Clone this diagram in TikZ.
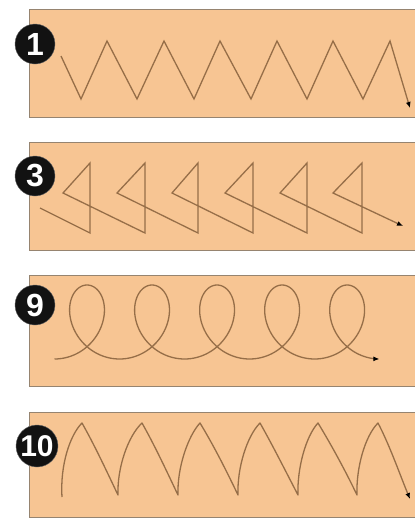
\documentclass[tikz,border=0pt]{standalone}
\usepackage{fontspec}
\setmainfont{Liberation Sans}
\usetikzlibrary{arrows.meta}
\definecolor{boxfill}{RGB}{247,197,147}
\definecolor{boxline}{RGB}{150,132,112}
\definecolor{strokec}{RGB}{150,110,72}
\definecolor{badge}{RGB}{18,18,18}
\tikzset{
  panel/.style={fill=boxfill, draw=boxline, line width=1pt},
  badgec/.style={circle, fill=badge, draw=black!60, line width=0.4pt, minimum size=40pt, inner sep=0pt,
    text=white, font=\bfseries\fontsize{32}{32}\selectfont},
  stroke/.style={draw=strokec, line width=1.3pt, line join=miter, -{Latex[length=6pt,width=5pt,color=black]}},
}
\begin{document}
\begin{tikzpicture}[x=1pt,y=-1pt]
\useasboundingbox (0,0) rectangle (415,520);
\fill[white] (0,0) rectangle (415,520);
\begin{scope}
\clip (0,0) rectangle (415,520);
% panels
\draw[panel] (29,9) rectangle (430,117);
\draw[panel] (29,142) rectangle (430,250);
\draw[panel] (29,275) rectangle (430,386);
\draw[panel] (29,412) rectangle (430,517);

% 1: zigzag
\draw[stroke] (61,56) -- (81,99) -- (107,41) -- (137,99) -- (164,41) -- (194,99) -- (220,41)
  -- (251,99) -- (277,41) -- (307,99) -- (333,41) -- (363,99) -- (390,41) -- (410,108);

% 3: triangles
\draw[stroke] (40,208) -- (90,233) -- (90,163) -- (63,193)
  -- (145,233) -- (145,163) -- (117,193)
  -- (198,233) -- (198,163) -- (172,193)
  -- (253,233) -- (253,163) -- (225,193)
  -- (307,233) -- (307,163) -- (280,193)
  -- (362,233) -- (362,163) -- (333,193)
  -- (403,226);

% 9: loops
\draw[stroke] plot[domain=0:31.4159, samples=500, smooth]
  ({54.5 + 10.35*\x + 32*sin(\x r)}, {322 + 37*cos(\x r)});

% 10: fins
\draw[stroke, line join=round] (62,497) .. controls (60,465) and (70,435) .. (82,423)
  .. controls (95,446) and (107,472) .. (118,495)
  .. controls (117,468) and (128,436) .. (142,423)
  .. controls (155,446) and (167,472) .. (178,495)
  .. controls (177,468) and (188,436) .. (200,423)
  .. controls (214,446) and (227,472) .. (238,495)
  .. controls (237,468) and (247,436) .. (260,423)
  .. controls (273,446) and (286,472) .. (298,495)
  .. controls (297,468) and (306,436) .. (318,423)
  .. controls (332,446) and (346,472) .. (357,495)
  .. controls (356,468) and (365,436) .. (378,423)
  .. controls (390,446) and (400,475) .. (410,499);
\end{scope}

% badges
\node[badgec] (b1) at (35,44) {1};
\node[badgec] (b3) at (35,176) {3};
\node[badgec] (b9) at (35,305) {9};
\node[badgec, minimum size=42pt] (b10) at (37,446) {\fontsize{30}{30}\selectfont 10};
\end{tikzpicture}
\end{document}
